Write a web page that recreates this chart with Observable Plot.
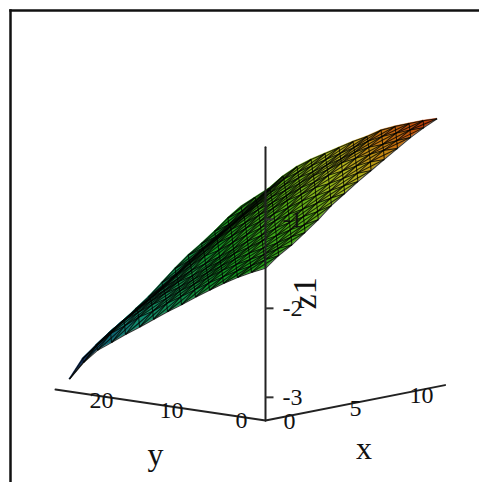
<!DOCTYPE html>
<html><head><meta charset="utf-8">
<style>html,body{margin:0;padding:0;background:#fff}svg{display:block}</style>
<script src="https://cdn.jsdelivr.net/npm/d3@7"></script>
<script src="https://cdn.jsdelivr.net/npm/@observablehq/plot@0.6"></script>
</head><body><div id="chart"></div>
<script>
const xStations=[0,1,2,3,4,5,6,7,8,9,10,11,12,13];
const yStations=[0,2,4,6,8,10,12,14,16,18,20,22,24,26,28];
const zAtY0 =[-1.55,-1.435,-1.345,-1.235,-1.12,-.99,-.885,-.78,-.685,-.59,-.495,-.40,-.32,-.25];
const zAtY2 =[-1.62,-1.51,-1.41,-1.31,-1.20,-1.08,-.96,-.85,-.74,-.64,-.54,-.46,-.37,-.295];
const zAtY4 =[-1.70,-1.60,-1.50,-1.40,-1.28,-1.16,-1.04,-.93,-.82,-.71,-.61,-.525,-.43,-.35];
const zAtY6 =[-1.79,-1.68,-1.58,-1.48,-1.37,-1.25,-1.13,-1.01,-.90,-.79,-.675,-.58,-.49,-.405];
const zAtY8 =[-1.89,-1.77,-1.66,-1.56,-1.45,-1.34,-1.21,-1.09,-.97,-.86,-.75,-.66,-.565,-.47];
const zAtY10=[-1.99,-1.86,-1.75,-1.65,-1.55,-1.44,-1.31,-1.19,-1.07,-.96,-.85,-.76,-.66,-.565];
const zAtY12=[-2.10,-1.96,-1.85,-1.75,-1.64,-1.53,-1.41,-1.28,-1.16,-1.05,-.94,-.85,-.75,-.645];
const zAtY14=[-2.20,-2.06,-1.95,-1.85,-1.75,-1.64,-1.51,-1.39,-1.27,-1.16,-1.05,-.95,-.84,-.735];
const zAtY16=[-2.31,-2.16,-2.05,-1.95,-1.85,-1.75,-1.62,-1.49,-1.37,-1.26,-1.15,-1.04,-.93,-.825];
const zAtY18=[-2.42,-2.27,-2.16,-2.06,-1.96,-1.85,-1.73,-1.60,-1.48,-1.36,-1.25,-1.14,-1.03,-.915];
const zAtY20=[-2.525,-2.36,-2.25,-2.15,-2.05,-1.95,-1.82,-1.70,-1.58,-1.47,-1.36,-1.25,-1.13,-1.02];
const zAtY22=[-2.64,-2.48,-2.36,-2.26,-2.17,-2.07,-1.95,-1.83,-1.71,-1.60,-1.50,-1.39,-1.27,-1.15];
const zAtY24=[-2.75,-2.59,-2.47,-2.37,-2.28,-2.19,-2.08,-1.97,-1.85,-1.75,-1.65,-1.54,-1.42,-1.31];
const zAtY26=[-2.91,-2.75,-2.63,-2.53,-2.44,-2.34,-2.23,-2.12,-2.00,-1.89,-1.79,-1.68,-1.56,-1.435];
const zAtY28=[-3.12,-2.92,-2.80,-2.69,-2.60,-2.48,-2.37,-2.24,-2.11,-1.99,-1.89,-1.78,-1.66,-1.56];
const zTable=[zAtY0,zAtY2,zAtY4,zAtY6,zAtY8,zAtY10,zAtY12,zAtY14,zAtY16,zAtY18,zAtY20,zAtY22,zAtY24,zAtY26,zAtY28];

const xTicks=[0,5,10], yTicks=[0,10,20], zTicks=[-3,-2,-1];
const xExtent=[0,13.6], yExtent=[0,30], zExtent=[-3.26,-0.19];
const colorStops=[-3.15,-2.75,-2.4,-1.7,-1.2,-0.8,-0.5,-0.25];
const colorRange=["#14105e","#0c4f72","#118a70","#12961e","#4fae14","#b0b81e","#c8780f","#b42c08"];

// oblique view of the box: each unit of x and y shifts the point sideways and upward
const U=(x,y)=>13.2*x-7*y;
const V=(x,y,z)=>z+(2.6*x+1.03*y)/89;
const p=(x,y,z)=>({u:U(x,y),v:V(x,y,z),z});

const cells=[],links=[];
yStations.forEach((y,j)=>xStations.forEach((x,i)=>{
  const a=p(x,y,zTable[j][i]);
  const hasX=i+1<xStations.length, hasY=j+1<yStations.length;
  const b=hasX?p(xStations[i+1],y,zTable[j][i+1]):null;
  const c=hasY?p(x,yStations[j+1],zTable[j+1][i]):null;
  const d=hasX&&hasY?p(xStations[i+1],yStations[j+1],zTable[j+1][i+1]):null;
  const add=(s,t)=>links.push({u1:s.u,v1:s.v,u2:t.u,v2:t.v});
  if(b)add(a,b); if(c)add(a,c);
  if(d){add(a,d);add(b,c);
    const id=`${i}-${j}`,zm=(a.z+b.z+c.z+d.z)/4;
    cells.push({id,zm,u1:a.u,v1:a.v,u2:c.u,v2:c.v});
    cells.push({id,zm,u1:b.u,v1:b.v,u2:d.u,v2:d.v});
  }
}));

const axes=[
 xExtent.map(x=>p(x,0,zExtent[0])),
 yExtent.map(y=>p(0,y,zExtent[0])),
 zExtent.map(z=>p(0,0,z))
].flatMap((line,k)=>line.map(q=>({...q,k})));

const txt={fontFamily:"Liberation Serif",fill:"#111"};
const chart=Plot.plot({
  width:479,height:482,margin:0,
  x:{domain:[-265,214],range:[0,479],axis:null},
  y:{domain:[1.459,-3.957],range:[0,482],axis:null},
  color:{type:"linear",domain:colorStops,range:colorRange,legend:false},
  marks:[
    Plot.frame({anchor:"top",insetTop:10,insetLeft:10,stroke:"#111",strokeWidth:2.5}),
    Plot.frame({anchor:"left",insetLeft:10,insetTop:10,stroke:"#111",strokeWidth:2.5}),
    Plot.area(cells,{x1:"u1",y1:"v1",x2:"u2",y2:"v2",z:"id",fill:"zm",stroke:"zm",strokeWidth:.5}),
    Plot.link(links,{x1:"u1",y1:"v1",x2:"u2",y2:"v2",stroke:"#030503",strokeWidth:1.1,strokeOpacity:.8}),
    Plot.line(axes,{x:"u",y:"v",z:"k",stroke:"#222",strokeWidth:2}),
    Plot.link(zTicks,{x1:()=>0,x2:()=>8,y1:z=>z,y2:z=>z,stroke:"#333",strokeWidth:2}),
    Plot.text(zTicks,{x:()=>0,y:z=>z,text:z=>String(z),dx:27,fontSize:24,...txt}),
    Plot.text(xTicks,{x:t=>U(t,0),y:t=>V(t,0,zExtent[0]),text:String,dx:24,dy:1,fontSize:24,...txt}),
    Plot.text(yTicks,{x:t=>U(0,t),y:t=>V(0,t,zExtent[0]),text:String,dx:-24,dy:0,fontSize:24,...txt}),
    Plot.text(["x"],{x:()=>U(7,0),y:()=>V(7,0,zExtent[0]),text:d=>d,dx:6,dy:46,fontSize:32,...txt}),
    Plot.text(["y"],{x:()=>U(0,15),y:()=>V(0,15,zExtent[0]),text:d=>d,dx:-5,dy:50,fontSize:32,...txt}),
    Plot.text(["z1"],{x:()=>0,y:()=>-2,text:d=>d,dx:40,dy:-15,rotate:-90,fontSize:34,...txt})
  ]
});
document.getElementById("chart").appendChild(chart);
</script></body></html>
